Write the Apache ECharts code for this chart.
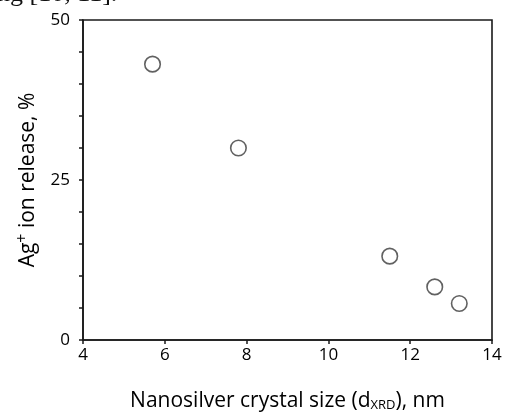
<!DOCTYPE html>
<html>
<head>
<meta charset="utf-8">
<script src="https://cdn.jsdelivr.net/npm/echarts@6/dist/echarts.min.js"></script>
<style>html,body{margin:0;padding:0;background:#fff;}#c{width:505px;height:415px;}</style>
</head>
<body>
<div id="c"></div>
<script>
var crystalSize = [5.7, 7.8, 11.5, 12.6, 13.2];
var ionRelease = [43.1, 30.0, 13.1, 8.3, 5.7];
var yTickLabels = [0, 25, 50];
var xTickLabels = [4, 6, 8, 10, 12, 14];

var chart = echarts.init(document.getElementById('c'), null, {renderer: 'canvas'});
var font = 'Open Sans';
chart.setOption({
  animation: false,
  backgroundColor: '#fff',
  graphic: [{
    type: 'text', left: -3, top: -19,
    style: {text: 'ng [10, 11].', font: '26px "Liberation Serif"', fill: '#111'}
  }],
  grid: {left: 83, right: 13, top: 20, bottom: 75, containLabel: false, outerBoundsMode: 'none',
    show: true, borderColor: '#1a1a1a', borderWidth: 1.6, backgroundColor: 'transparent'},
  xAxis: {
    type: 'value', min: 4, max: 14, interval: 2,
    axisLine: {show: true, onZero: false, lineStyle: {color: '#1a1a1a', width: 1.6}},
    axisTick: {show: true, inside: false, length: 4, lineStyle: {color: '#1a1a1a', width: 1.5}},
    splitLine: {show: false},
    axisLabel: {color: '#000', fontSize: 17, fontFamily: font, margin: 7,
      formatter: function (v) { return xTickLabels.indexOf(v) >= 0 ? String(v) : ''; }},
    name: '{n|Nanosilver crystal size (d}{sub|XRD}{n|), nm}',
    nameLocation: 'middle', nameGap: 50,
    nameTextStyle: {rich: {
      n: {fontSize: 21, fontFamily: font, color: '#000'},
      sub: {fontSize: 13, fontFamily: font, color: '#000', padding: [9, 0, 0, 0]}
    }}
  },
  yAxis: {
    type: 'value', min: 0, max: 50, interval: 5,
    axisLine: {show: true, lineStyle: {color: '#1a1a1a', width: 1.6}},
    axisTick: {show: true, inside: false, length: 4, lineStyle: {color: '#1a1a1a', width: 1.5}},
    splitLine: {show: false},
    axisLabel: {color: '#000', fontSize: 17, fontFamily: font, margin: 13,
      formatter: function (v) { return yTickLabels.indexOf(v) >= 0 ? String(v) : ''; }},
    name: '{n|Ag}{sup|+}{n| ion release, %}',
    nameLocation: 'middle', nameGap: 41, nameRotate: 90,
    nameTextStyle: {rich: {
      n: {fontSize: 21, fontFamily: font, color: '#000'},
      sup: {fontSize: 16, fontFamily: font, color: '#000', padding: [0, 0, 12, 0]}
    }}
  },
  series: [{
    type: 'scatter',
    data: crystalSize.map(function (x, i) { return [x, ionRelease[i]]; }),
    symbol: 'circle', symbolSize: 15.5,
    itemStyle: {color: '#fff', borderColor: '#3a3a3a', borderWidth: 1.6}
  }]
});
</script>
</body>
</html>
